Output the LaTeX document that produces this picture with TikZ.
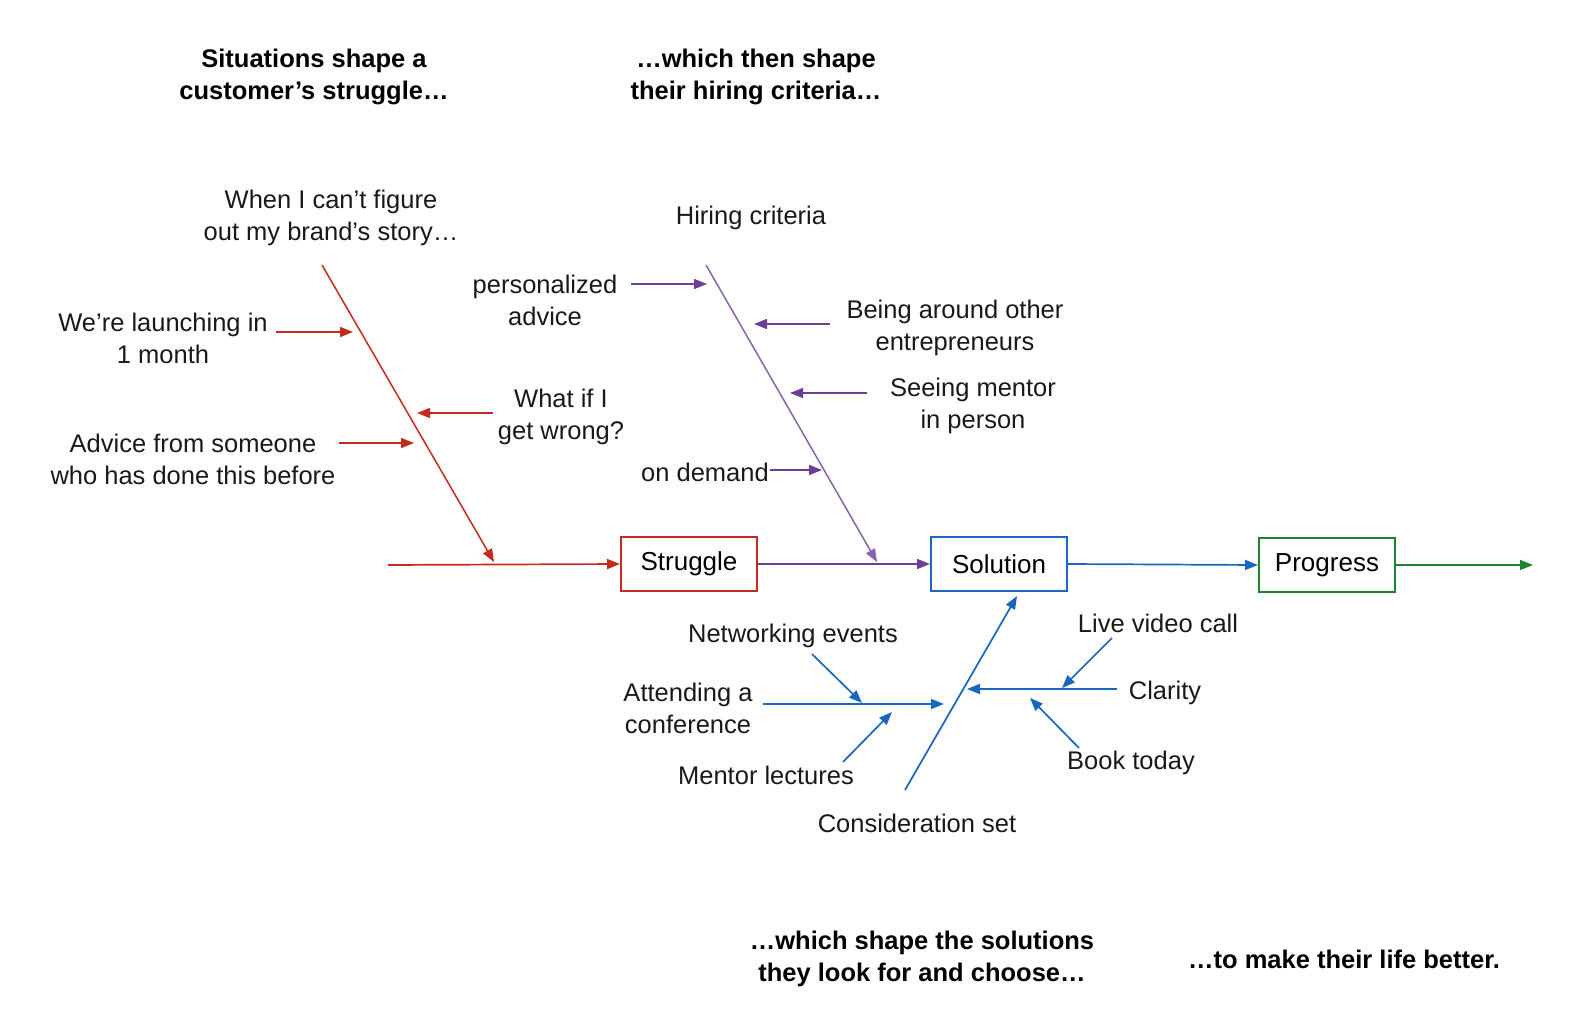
\documentclass[tikz,border=0pt]{standalone}
\usepackage{fontspec}
\setmainfont{Liberation Sans}
\usetikzlibrary{arrows.meta}
\definecolor{cred}{HTML}{C42B1F}
\definecolor{cpurp}{HTML}{6B3F96}
\definecolor{cblue}{HTML}{1766C0}
\definecolor{cgreen}{HTML}{1A8530}
\begin{document}
\begin{tikzpicture}[x=1pt,y=-1pt,
  lbl/.style={font=\fontsize{25.5}{32}\selectfont, align=center, inner sep=0pt, text=black!90},
  hdr/.style={font=\fontsize{25.5}{32}\selectfont\bfseries, align=center, inner sep=0pt},
  box/.style={draw, line width=2pt, minimum width=136pt, minimum height=54pt, inner sep=0pt, font=\fontsize{26}{32}\selectfont},
  arr/.style={line width=1.7pt, -{Triangle[length=13pt,width=10pt]}},
  ln/.style={line width=1.6pt}]
\useasboundingbox (0,0) rectangle (1572,1014);

% headers
\node[hdr] (h1) at (314,77) {Situations shape a\\customer’s struggle…};
\node[hdr] (h2) at (756,77) {…which then shape\\their hiring criteria…};
\node[hdr] (h3) at (922,959) {…which shape the solutions\\they look for and choose…};
\node[hdr] (h4) at (1344,959) {…to make their life better.};

% boxes
\node[box, draw=cred] (struggle) at (689,564) {Struggle};
\node[box, draw=cblue] (solution) at (999,564) {Solution};
\node[box, draw=cgreen] (progress) at (1327,565) {Progress};

% main line
\coordinate (rstart) at (388,565);
\coordinate (gend) at (1533,565);
\draw[arr, cred] (rstart) -- (struggle.west);
\draw[arr, cpurp] (struggle.east) -- (solution.west);
\draw[arr, cblue] (solution.east) -- (progress.west);
\draw[arr, cgreen] (progress.east) -- (gend);

% red bone
\node[lbl] (t1) at (331,218) {When I can’t figure\\out my brand’s story…};
\node[lbl] (t2) at (163,338) {We’re launching in\\1 month};
\node[lbl] (t3) at (561,417) {What if I\\get wrong?};
\node[lbl] (t4) at (193,459) {Advice from someone\\who has done this before};
\coordinate (rtop) at (322,265);
\coordinate (rbot) at (494,562);
\draw[arr, cred, line width=1.5pt] (rtop) -- (rbot);
\coordinate (a2s) at (276,332); \coordinate (a2e) at (353,332);
\coordinate (a3s) at (493,413); \coordinate (a3e) at (417,413);
\coordinate (a4s) at (339,443); \coordinate (a4e) at (414,443);
\draw[arr, cred] (a2s) -- (a2e);
\draw[arr, cred] (a3s) -- (a3e);
\draw[arr, cred] (a4s) -- (a4e);

% purple bone
\node[lbl] (p0) at (751,218) {Hiring criteria};
\node[lbl] (p1) at (545,300) {personalized\\advice};
\node[lbl] (p2) at (955,328) {Being around other\\entrepreneurs};
\node[lbl] (p3) at (973,406) {Seeing mentor\\in person};
\node[lbl, anchor=east] (p4) at (769,472) {on demand};
\coordinate (ptop) at (706,265);
\coordinate (pbot) at (877,562);
\draw[arr, cpurp!80!white, line width=1.5pt] (ptop) -- (pbot);
\coordinate (b1s) at (631,284); \coordinate (b1e) at (707,284);
\coordinate (b2s) at (830,324); \coordinate (b2e) at (754,324);
\coordinate (b3s) at (867,393); \coordinate (b3e) at (790,393);
\coordinate (b4s) at (770,470); \coordinate (b4e) at (822,470);
\draw[arr, cpurp] (b1s) -- (b1e);
\draw[arr, cpurp] (b2s) -- (b2e);
\draw[arr, cpurp] (b3s) -- (b3e);
\draw[arr, cpurp] (b4s) -- (b4e);

% blue bone
\node[lbl] (c0) at (917,823) {Consideration set};
\node[lbl] (c1) at (688,708) {Attending a\\conference};
\node[lbl] (c2) at (793,636) {Networking events};
\node[lbl] (c3) at (766,775) {Mentor lectures};
\node[lbl] (c4) at (1165,693) {Clarity};
\node[lbl] (c5) at (1158,623) {Live video call};
\node[lbl] (c6) at (1131,763) {Book today};
\coordinate (cbot) at (905,790);
\coordinate (ctop) at (1017,596);
\draw[arr, cblue] (cbot) -- (ctop);
\coordinate (l1s) at (763,704); \coordinate (l1e) at (944,704);
\coordinate (l2s) at (812,654); \coordinate (l2e) at (862,703);
\coordinate (l3s) at (843,762); \coordinate (l3e) at (892,712);
\coordinate (r1s) at (1117,689); \coordinate (r1e) at (967,689);
\coordinate (r2s) at (1112,638); \coordinate (r2e) at (1062,688);
\coordinate (r3s) at (1079,748); \coordinate (r3e) at (1030,698);
\draw[arr, cblue] (l1s) -- (l1e);
\draw[arr, cblue] (l2s) -- (l2e);
\draw[arr, cblue] (l3s) -- (l3e);
\draw[arr, cblue] (r1s) -- (r1e);
\draw[arr, cblue] (r2s) -- (r2e);
\draw[arr, cblue] (r3s) -- (r3e);
\end{tikzpicture}
\end{document}
